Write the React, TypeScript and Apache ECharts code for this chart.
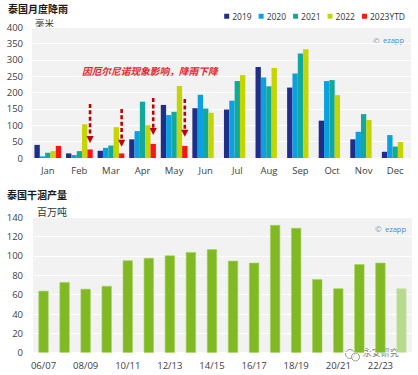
import React, { useEffect, useRef } from "react";
import * as echarts from "echarts";

const months = ["Jan", "Feb", "Mar", "Apr", "May", "Jun", "Jul", "Aug", "Sep", "Oct", "Nov", "Dec"];
const rainYears = ["2019", "2020", "2021", "2022", "2023YTD"];
const rain2019 = [40, 14, 22, 57, 162, 152, 148, 278, 215, 114, 57, 19];
const rain2020 = [5, 9, 31, 82, 131, 193, 175, 246, 258, 235, 80, 70];
const rain2021 = [16, 21, 38, 172, 141, 151, 235, 219, 319, 238, 134, 35];
const rain2022 = [21, 103, 94, 100, 220, 138, 253, 275, 332, 192, 116, 49];
const rain2023 = [37, 26, 14, 43, 37, null, null, null, null, null, null, null];
const rainColors = ["#1f2e86", "#0ba0e0", "#12a99b", "#c5d500", "#ff1414"];

const arrowMonths = ["Feb", "Mar", "Apr", "May"];
const arrowFrom = [165, 150, 183, 180];
const arrowTo = [46, 34, 70, 65];

const seasons = ["06/07", "07/08", "08/09", "09/10", "10/11", "11/12", "12/13", "13/14", "14/15", "15/16", "16/17", "17/18", "18/19", "19/20", "20/21", "21/22", "22/23", "23/24"];
const production = [64, 73, 66, 69, 95.5, 98, 100.5, 104, 107, 95, 93, 132, 129, 76, 66.5, 91.5, 93, 66.5];
const forecastIndex = 17;

const FONT = "'Open Sans', 'Noto Sans CJK SC', sans-serif";
const CJK = "'Noto Sans CJK SC', sans-serif";
const CAT_GAP = 0.155;

export default function App() {
  const ref = useRef<HTMLDivElement>(null);
  useEffect(() => {
    if (!ref.current) return;
    const chart = echarts.init(ref.current, undefined, { renderer: "svg" });
    const rainSeries = [rain2019, rain2020, rain2021, rain2022, rain2023].map((d, i) => ({
      name: rainYears[i],
      type: "bar",
      xAxisIndex: 0,
      yAxisIndex: 0,
      data: d,
      barGap: "0%",
      barCategoryGap: CAT_GAP * 100 + "%",
      itemStyle: { color: rainColors[i] },
      silent: true,
    }));
    const option: any = {
      animation: false,
      textStyle: { fontFamily: FONT },
      legend: {
        data: rainYears.map((n) => ({ name: n, icon: "rect" })),
        right: 13,
        top: 12,
        itemWidth: 5,
        itemHeight: 5,
        itemGap: 7,
        padding: 0,
        textStyle: { fontSize: 8.5, color: "#333", fontFamily: FONT, padding: [0, 0, 0, -2] },
      },
      grid: [
        { left: 32, right: 7, top: 27, height: 131, show: true, backgroundColor: "#f2f2f2", borderWidth: 0 },
        { left: 33, right: 6, top: 217.3, height: 135.4, show: true, backgroundColor: "#f2f2f2", borderWidth: 0 },
      ],
      xAxis: [
        {
          type: "category",
          gridIndex: 0,
          data: months,
          axisLine: { show: false },
          axisTick: { show: false },
          axisLabel: { fontSize: 9.5, color: "#404040", margin: 8, fontFamily: FONT },
        },
        {
          type: "category",
          gridIndex: 1,
          data: seasons,
          axisLine: { show: false },
          axisTick: { show: false },
          axisLabel: { fontSize: 9.5, color: "#404040", margin: 8, interval: 1, fontFamily: FONT },
        },
      ],
      yAxis: [
        {
          type: "value",
          gridIndex: 0,
          min: 0,
          max: 400,
          interval: 50,
          axisLine: { show: false },
          axisTick: { show: false },
          axisLabel: { fontSize: 9.5, color: "#404040", margin: 9, fontFamily: FONT },
          splitLine: { lineStyle: { color: "#ffffff", width: 1 } },
        },
        {
          type: "value",
          gridIndex: 1,
          min: 0,
          max: 140,
          interval: 20,
          axisLine: { show: false },
          axisTick: { show: false },
          axisLabel: { fontSize: 9.5, color: "#404040", margin: 10, fontFamily: FONT },
          splitLine: { lineStyle: { color: "#ffffff", width: 1 } },
        },
      ],
      series: [
        ...rainSeries,
        {
          type: "custom",
          name: "arrows",
          xAxisIndex: 0,
          yAxisIndex: 0,
          silent: true,
          z: 10,
          encode: { x: 0, y: [1, 2] },
          data: arrowMonths.map((m, i) => [m, arrowFrom[i], arrowTo[i]]),
          renderItem: (params: any, api: any) => {
            const idx = api.value(0);
            const p1 = api.coord([idx, api.value(1)]);
            const p2 = api.coord([idx, api.value(2)]);
            const band = api.size([1, 0])[0];
            const slot = (band * (1 - CAT_GAP)) / 5;
            const x = p1[0] + 2 * slot;
            const headH = 7;
            const headW = 3.6;
            return {
              type: "group",
              children: [
                {
                  type: "line",
                  shape: { x1: x, y1: p1[1], x2: x, y2: p2[1] - headH + 1 },
                  style: { stroke: "#c00000", lineWidth: 2.6, lineDash: [4, 2.4] },
                },
                {
                  type: "polygon",
                  shape: { points: [[x - headW, p2[1] - headH], [x + headW, p2[1] - headH], [x, p2[1]]] },
                  style: { fill: "#c00000" },
                },
              ],
            };
          },
        },
        {
          type: "bar",
          name: "production",
          xAxisIndex: 1,
          yAxisIndex: 1,
          barWidth: "48%",
          silent: true,
          data: production.map((v, i) =>
            i === forecastIndex
              ? { value: v, itemStyle: { color: "#b8da8c", borderColor: "#cfe6b0", borderWidth: 0.6 } }
              : v
          ),
          itemStyle: { color: "#80b923", borderColor: "#a6d45c", borderWidth: 0.6 },
        },
      ],
      graphic: [
        { type: "text", left: 8, top: 3.5, style: { text: "泰国月度降雨", fontSize: 10, fontWeight: "bold", fill: "#1a1a1a", fontFamily: CJK } },
        { type: "text", left: 35, top: 18.5, style: { text: "毫米", fontSize: 9.5, fill: "#333", fontFamily: CJK } },
        {
          type: "text",
          left: 82,
          top: 66.5,
          style: { text: "因厄尔尼诺现象影响，降雨下降", fontSize: 9.7, fontStyle: "italic", fontWeight: "bold", fill: "#e3262d", fontFamily: CJK },
        },
        {
          type: "text",
          right: 14,
          top: 34,
          style: {
            text: "{a|©} {b|ezapp}",
            rich: {
              a: { fontSize: 8, fill: "#8094a8", fontFamily: FONT },
              b: { fontSize: 7.5, fill: "#3d8fd0", fontFamily: FONT },
            },
          },
        },
        { type: "text", left: 7, top: 189.5, style: { text: "泰国干涸产量", fontSize: 10, fontWeight: "bold", fill: "#1a1a1a", fontFamily: CJK } },
        { type: "text", left: 37, top: 206.5, style: { text: "百万吨", fontSize: 10, fill: "#333", fontFamily: CJK } },
        {
          type: "text",
          right: 12,
          top: 222.5,
          style: {
            text: "{a|©} {b|ezapp}",
            rich: {
              a: { fontSize: 8, fill: "#8094a8", fontFamily: FONT },
              b: { fontSize: 7.5, fill: "#3d8fd0", fontFamily: FONT },
            },
          },
        },
        {
          type: "group",
          left: 343,
          top: 347,
          children: [
            { type: "circle", shape: { cx: 5, cy: 5, r: 4.5 }, style: { fill: "none", stroke: "#9a9a9a", lineWidth: 1 } },
            { type: "circle", shape: { cx: 10.5, cy: 8, r: 4 }, style: { fill: "rgba(255,255,255,0.6)", stroke: "#9a9a9a", lineWidth: 1 } },
          ],
        },
        { type: "text", left: 362, top: 347.5, style: { text: "永安研究", fontSize: 9, fill: "#7a7a7a", fontFamily: CJK, stroke: "rgba(255,255,255,0.7)", lineWidth: 1.5 } },
      ],
    };
    chart.setOption(option);
    return () => chart.dispose();
  }, []);
  return <div ref={ref} style={{ position: "absolute", left: 0, top: 0, width: 418, height: 375, background: "#fff" }} />;
}
